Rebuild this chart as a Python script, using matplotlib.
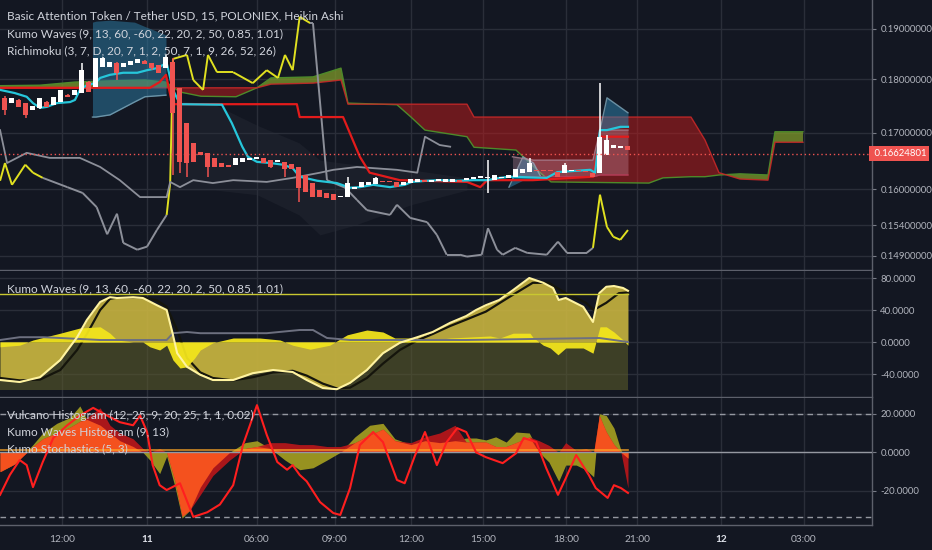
import numpy as np
import matplotlib
matplotlib.use('Agg')
import matplotlib.pyplot as plt
from matplotlib.collections import LineCollection
import matplotlib.transforms as mtrans
from matplotlib.ticker import NullLocator

plt.rcParams['font.family'] = ['Lato', 'DejaVu Sans']

# ---------------- data ----------------
# Heikin Ashi candles (15-min bars, index 0..89)
ha_open = [0.1765, 0.1755, 0.1761, 0.1755, 0.1742, 0.1746, 0.1757, 0.1752, 0.1757, 0.1770,
           0.1770, 0.1774, 0.1795, 0.1786, 0.1824, 0.1824, 0.1832, 0.1824, 0.1828, 0.1832,
           0.1836, 0.1832, 0.1828, 0.1822, 0.1834, 0.1784, 0.1718, 0.1682, 0.1666, 0.1664,
           0.1655, 0.1646, 0.1643, 0.1643, 0.1648, 0.1651, 0.1653, 0.1655, 0.1651, 0.1648,
           0.1648, 0.1644, 0.1639, 0.1625, 0.1611, 0.1599, 0.1594, 0.1592, 0.1587, 0.1587,
           0.1601, 0.1604, 0.1608, 0.1610, 0.1615, 0.1615, 0.1613, 0.1608, 0.1611, 0.1613,
           0.1616, 0.1613, 0.1615, 0.1613, 0.1613, 0.1616, 0.1616, 0.1618, 0.1620, 0.1620,
           0.1616, 0.1620, 0.1620, 0.1622, 0.1629, 0.1630, 0.1634, 0.1634, 0.1634, 0.1630,
           0.1629, 0.1632, 0.1634, 0.1632, 0.1629, 0.1629, 0.1660, 0.1673, 0.1673, 0.1676]
ha_close = [0.1742, 0.1765, 0.1748, 0.1733, 0.1750, 0.1765, 0.1748, 0.1767, 0.1780, 0.1767,
            0.1780, 0.1818, 0.1776, 0.1842, 0.1842, 0.1834, 0.1813, 0.1832, 0.1836, 0.1840,
            0.1830, 0.1822, 0.1813, 0.1844, 0.1737, 0.1648, 0.1646, 0.1648, 0.1660, 0.1639,
            0.1639, 0.1639, 0.1639, 0.1655, 0.1655, 0.1655, 0.1657, 0.1646, 0.1639, 0.1651,
            0.1636, 0.1636, 0.1603, 0.1596, 0.1587, 0.1587, 0.1586, 0.1582, 0.1589, 0.1611,
            0.1604, 0.1613, 0.1613, 0.1620, 0.1613, 0.1613, 0.1604, 0.1613, 0.1618, 0.1618,
            0.1613, 0.1616, 0.1618, 0.1618, 0.1618, 0.1613, 0.1620, 0.1622, 0.1623, 0.1622,
            0.1625, 0.1622, 0.1625, 0.1636, 0.1636, 0.1646, 0.1632, 0.1632, 0.1632, 0.1622,
            0.1643, 0.1634, 0.1632, 0.1630, 0.1622, 0.1693, 0.1687, 0.1678, 0.1676, 0.1669]
ha_high = [0.1769, 0.1765, 0.1763, 0.1755, 0.1750, 0.1765, 0.1759, 0.1767, 0.1780, 0.1772,
           0.1780, 0.1832, 0.1797, 0.1842, 0.1844, 0.1834, 0.1834, 0.1832, 0.1836, 0.1840,
           0.1838, 0.1832, 0.1828, 0.1848, 0.1842, 0.1784, 0.1718, 0.1682, 0.1666, 0.1664,
           0.1655, 0.1646, 0.1643, 0.1655, 0.1655, 0.1655, 0.1657, 0.1655, 0.1651, 0.1651,
           0.1648, 0.1644, 0.1639, 0.1625, 0.1611, 0.1599, 0.1594, 0.1592, 0.1589, 0.1622,
           0.1604, 0.1613, 0.1613, 0.1622, 0.1615, 0.1615, 0.1613, 0.1613, 0.1618, 0.1618,
           0.1616, 0.1616, 0.1618, 0.1618, 0.1618, 0.1616, 0.1620, 0.1622, 0.1623, 0.1651,
           0.1625, 0.1622, 0.1625, 0.1636, 0.1636, 0.1655, 0.1634, 0.1634, 0.1634, 0.1630,
           0.1646, 0.1634, 0.1634, 0.1632, 0.1629, 0.1793, 0.1696, 0.1678, 0.1676, 0.1676]
ha_low = [0.1733, 0.1755, 0.1748, 0.1727, 0.1742, 0.1744, 0.1748, 0.1752, 0.1757, 0.1767,
          0.1770, 0.1774, 0.1776, 0.1786, 0.1824, 0.1824, 0.1799, 0.1824, 0.1828, 0.1832,
          0.1830, 0.1818, 0.1813, 0.1822, 0.1625, 0.1629, 0.1622, 0.1648, 0.1660, 0.1622,
          0.1639, 0.1639, 0.1639, 0.1643, 0.1648, 0.1651, 0.1653, 0.1646, 0.1637, 0.1648,
          0.1622, 0.1636, 0.1579, 0.1596, 0.1587, 0.1587, 0.1586, 0.1582, 0.1587, 0.1587,
          0.1601, 0.1604, 0.1608, 0.1610, 0.1613, 0.1613, 0.1604, 0.1608, 0.1611, 0.1613,
          0.1613, 0.1613, 0.1615, 0.1613, 0.1613, 0.1613, 0.1616, 0.1618, 0.1620, 0.1594,
          0.1616, 0.1620, 0.1620, 0.1622, 0.1629, 0.1630, 0.1632, 0.1632, 0.1632, 0.1622,
          0.1629, 0.1632, 0.1632, 0.1630, 0.1622, 0.1629, 0.1660, 0.1673, 0.1673, 0.1669]
last_price = 0.16624801

# Ichimoku cloud (spans A / B, shifted forward)
cloud_x = [-1, 5, 10, 14, 20, 23, 25, 28, 33, 36, 38, 44, 48, 49, 56, 58, 60, 66, 67, 73,
           76, 78, 92, 94, 98, 100, 102, 105, 109, 110, 114]
span_a = [0.1788, 0.1789, 0.1795, 0.1797, 0.1799, 0.1795, 0.1776, 0.1768, 0.1767, 0.1784,
          0.1803, 0.1805, 0.1822, 0.1755, 0.1752, 0.1729, 0.1705, 0.1693, 0.1674, 0.1669,
          0.1634, 0.1613, 0.1611, 0.1620, 0.1622, 0.1622, 0.1625, 0.1627, 0.1625, 0.1702, 0.1702]
span_b = [0.1784, 0.1784, 0.1784, 0.1784, 0.1784, 0.1784, 0.1784, 0.1784, 0.1784, 0.1784,
          0.1791, 0.1793, 0.1799, 0.1753, 0.1753, 0.1753, 0.1753, 0.1753, 0.1729, 0.1729,
          0.1729, 0.1729, 0.1729, 0.1729, 0.1729, 0.1687, 0.1629, 0.1618, 0.1616, 0.1683, 0.1683]

# Tenkan (cyan) and Kijun (red)
tenkan_x = [-0.7, 1.4, 3.1, 4, 5, 6, 7.4, 9.3, 10, 10.7, 11.7, 12.9, 13.6, 15, 16.9, 18.9, 20.3,
            21.7, 23.1, 24, 25, 31, 32.4, 33.9, 34.7, 36, 37.9, 39.7, 41.1, 42.1, 44.6, 47.4, 49.3,
            50.7, 52.6, 55, 57.1, 58.1, 60.3, 62.1, 64.6, 66.9, 68.9, 70.7, 72.1, 77.4, 78.9, 83.6,
            84.3, 85, 86, 87.9, 89]
tenkan = [0.1780, 0.1774, 0.1767, 0.1755, 0.1746, 0.1748, 0.1755, 0.1757, 0.1761, 0.1780, 0.1789,
          0.1793, 0.1803, 0.1809, 0.1813, 0.1813, 0.1818, 0.1822, 0.1832, 0.1780, 0.1753, 0.1752,
          0.1718, 0.1675, 0.1657, 0.1648, 0.1646, 0.1643, 0.1637, 0.1622, 0.1615, 0.1611, 0.1603,
          0.1604, 0.1608, 0.1604, 0.1608, 0.1613, 0.1615, 0.1616, 0.1615, 0.1616, 0.1616, 0.1620,
          0.1622, 0.1620, 0.1630, 0.1634, 0.1629, 0.1705, 0.1705, 0.1711, 0.1711]
kijun_x = [-0.7, 20.7, 22.1, 23, 23.9, 41.7, 42.1, 48.3, 50.7, 52.1, 56.4, 66, 67.9, 68.9, 75.4,
           84, 85, 89]
kijun = [0.1784, 0.1784, 0.1795, 0.1809, 0.1753, 0.1753, 0.1729, 0.1729, 0.1657, 0.1629, 0.1616,
         0.1613, 0.1604, 0.1616, 0.1616, 0.1622, 0.1693, 0.1693]

# Kumo Waves bands on price
blue1_x = [12.5, 13, 15, 18.5, 20, 23]
blue1_top = [0.1914, 0.1916, 0.1918, 0.1914, 0.1905, 0.1888]
blue1_bot = [0.1729, 0.1729, 0.1733, 0.1757, 0.1767, 0.1770]
blue2_x = [72, 74, 75.5, 76.5]
blue2_top = [0.1604, 0.1657, 0.1646, 0.1623]
blue2_bot = [0.1604, 0.1616, 0.1618, 0.1620]
blue3_x = [85, 86, 89]
blue3_top = [0.1705, 0.1765, 0.1737]
blue3_bot = [0.1705, 0.1705, 0.1711]
pink_x = [72.5, 75.5, 84, 85, 89]
pink_top = [0.1657, 0.1651, 0.1651, 0.1705, 0.1705]
pink_bot = [0.1622, 0.1622, 0.1622, 0.1625, 0.1625]
shade_x = [24, 30, 36, 42, 45, 50, 58, 66]
shade_top = [0.1761, 0.1752, 0.1714, 0.1682, 0.1651, 0.1643, 0.1634, 0.1620]
shade_bot = [0.1599, 0.1599, 0.1591, 0.1557, 0.1524, 0.1540, 0.1574, 0.1599]

# yellow / gray oscillating line (Y = yellow state, G = gray state)
osc_x = [-0.7, 0, 1, 2.9, 4, 5.4, 8.9, 11.1, 13.1, 14.6, 16, 16.9, 18.9, 20.3, 21.7, 23.1, 23.6,
         24, 26, 26.9, 28.3, 29, 30.3, 32.6, 35.4, 37.4, 39, 40, 41.1, 42.1, 43.6, 44, 46, 48.6,
         50.3, 51.7, 55, 56, 57.9, 60.3, 61.7, 63.1, 65, 66, 68.1, 69, 70.3, 71.1, 72.9, 74.6,
         77.4, 79, 80.3, 83.1, 84, 85, 86, 86.9, 87.9, 89]
osc_val = [0.1615, 0.1646, 0.1608, 0.1643, 0.1629, 0.1620, 0.1604, 0.1594, 0.1570, 0.1525, 0.1559,
           0.1511, 0.1500, 0.1505, 0.1532, 0.1557, 0.1611, 0.1840, 0.1848, 0.1799, 0.1780, 0.1848,
           0.1814, 0.1814, 0.1793, 0.1818, 0.1803, 0.1848, 0.1818, 0.1925, 0.1912, 0.1912, 0.1616,
           0.1603, 0.1582, 0.1565, 0.1557, 0.1574, 0.1552, 0.1545, 0.1524, 0.1492, 0.1492, 0.1489,
           0.1492, 0.1535, 0.1500, 0.1492, 0.1503, 0.1495, 0.1492, 0.1513, 0.1495, 0.1495, 0.1503,
           0.1591, 0.1537, 0.1521, 0.1516, 0.1532]
osc_state = ['Y', 'Y', 'Y', 'Y', 'Y', 'G', 'G', 'G', 'G', 'G', 'G', 'G', 'G', 'G', 'G', 'Y', 'Y',
             'Y', 'Y', 'Y', 'Y', 'Y', 'Y', 'Y', 'Y', 'Y', 'Y', 'Y', 'Y', 'Y', 'G', 'G', 'G', 'G',
             'G', 'G', 'G', 'G', 'G', 'G', 'G', 'G', 'G', 'G', 'G', 'G', 'G', 'G', 'G', 'G',
             'G', 'G', 'G', 'G', 'Y', 'Y', 'Y', 'Y', 'Y', 'Y']
# lagging (gray) line
lag_x = [-0.7, 0.3, 3.1, 6.4, 10.7, 13.6, 16.4, 19.3, 23.1, 23.6, 25, 26.9, 29.7, 32.6, 37.4,
         41.1, 45, 46.9, 50.3, 56, 58.9, 60, 62.1, 63.6]
lag_val = [0.1705, 0.1646, 0.1664, 0.1655, 0.1655, 0.1639, 0.1616, 0.1587, 0.1587, 0.1613, 0.1604,
           0.1616, 0.1611, 0.1616, 0.1613, 0.1620, 0.1629, 0.1634, 0.1639, 0.1634, 0.1629, 0.1693,
           0.1678, 0.1675]

# Kumo Waves oscillator panel
kw_level_hi, kw_level_lo = 60, -60
kw_x = [-0.7, 2.1, 5, 7.9, 10.3, 11.7, 13.6, 15, 16, 18.3, 19.7, 21.7, 23.1, 23.9, 24.6, 26, 27.9,
        29.7, 32.6, 35.4, 38.3, 41.1, 43.1, 45.4, 47.4, 49.3, 51.7, 54, 56.4, 58.9, 61.1, 63.6,
        65.9, 67.3, 68.7, 70.6, 72.6, 74.9, 76.9, 78.3, 79.1, 80.1, 82.6, 84, 84.9, 85.9, 87,
        88.3, 89]
kw_fast = [-47.5, -50, -44, -22.5, 6, 27.5, 50, 56, 55, 56, 55, 46, 40, 12.5, -14, -31, -41, -47.5,
           -47.5, -39, -35, -37.5, -47.5, -57.5, -59, -51, -35, -14, -1, 6, 12.5, 24, 32.5, 40, 46,
           52.5, 65, 80, 74, 67.5, 52.5, 55, 44, 25, 61, 69, 70, 67.5, 64]
kws_x = [-0.7, 2.1, 5, 7.9, 10.3, 11.7, 13.6, 15, 16.4, 19.7, 21.7, 23.1, 24.6, 26, 27.9, 29.7,
         32.6, 35.4, 38.3, 41.1, 43.1, 45.4, 47.4, 49.3, 51.7, 54, 56.4, 58.9, 61.1, 63.6, 65.9,
         68.7, 72, 75.4, 77.7, 80.1, 83, 84.1, 85.9, 87.7, 89]
kw_slow = [-45, -48, -47, -35, -10, 10, 40, 54, 56, 56, 52, 44, 15, -20, -38, -45, -48, -44, -38,
           -36, -42, -52, -58, -57, -45, -27, -10, 2, 10, 20, 28, 38, 56, 74, 74, 61, 49, 40, 49,
           61, 62]
kwy_x = [-0.7, 2.1, 4, 7.9, 10.7, 13.6, 15, 16, 18.3, 19.7, 20.7, 22.1, 23.1, 24, 25, 26, 27.1,
         27.9, 29.7, 32.6, 36.4, 39.3, 41.1, 43.6, 46.4, 48.9, 51.7, 54, 55.7, 57.9, 61.1, 63.6,
         65.9, 69.3, 70.7, 72.6, 75, 75.4, 76.9, 77.9, 79, 80.1, 82.6, 84, 85, 85.9, 87, 88.3, 89]
kw_hist = [-6, -4, 2.5, 11, 17.5, 19, 11, 2.5, 0, 0, -6, -10, -4, -22.5, -32.5, -31, -20, -10, -1,
           5, 5, 2.5, -4, -9, -4, 9, 15, 12.5, 5, 5, 2.5, 5, 6, 7.5, 5, 11, 11, 6, -4, -7.5, -16,
           -7.5, -7.5, -14, 19, 19, 12.5, 2.5, -4]
kwg_x = [-0.7, 2.1, 5.4, 7.9, 13.6, 23.1, 24, 26, 27.9, 37.4, 42.1, 44, 46, 49.3, 65.9, 84.9, 89]
kw_gray = [2.5, 6, 6, 5, 2.5, 2.5, 11, 12.5, 11, 11, 15, 15, 5, 2.5, 2.5, 5, 0]

# Vulcano / Kumo Waves histogram / Stochastics panel
vh_x = [-0.7, 1.4, 4, 5.4, 7.4, 9.3, 10.7, 11.7, 13.6, 15, 16.4, 18.3, 19.7, 20.7, 22.1, 23.1,
        24.3, 25.3, 26.4, 27.9, 29.7, 32.1, 34.3, 36, 37.9, 40, 42.1, 44, 46, 47.9, 50, 52.1, 54,
        55.7, 58, 60, 62.1, 64.3, 65.9, 67.3, 68.7, 70.1, 71.6, 73, 74.9, 76.3, 77.7, 79.1, 80.1,
        81.6, 83, 84.1, 84.9, 85.9, 87, 88, 89]
vulcano = [-10, -6, 4, 10, 15, 18, 24, 17, 14, 10, 6, 3, 0, -4, -11, -2, -18, -34, -30, -18, -8, 0,
           5, 6, 2, -4, -9, -8, -4, 0, 8, 14, 15, 7, 4, 6, 5, 6, 7.4, 7.4, 6.4, 8, 5.3, 10.5, 10, 0,
           -5, -15, -6.6, -6.6, -9, -12.7, 20, 19, 12.5, 1, -3]
kw_histo = [-10, -6, 3, 7, 10, 13, 16, 18, 23, 14, 10, 7, 2, 0, 2, 0, -15, -33, -30, -22, -12, -4,
            2, 3, 5, 5, 4, 4, 3, 3, 5, 9, 12, 6, 5, 8, 10, 14, 5.3, 5.3, 5.3, 3, 3, 5, 8, 6, 3.6, 0,
            5, 1, 2, 0, 19, 10.5, 4, 0, -18.5]
st_x = [-0.7, 0.7, 2.1, 3.1, 4, 5.4, 6.9, 8.9, 10.7, 12.6, 14.6, 16.4, 18.3, 19.3, 20.3, 21.1,
        22.1, 23.1, 25, 26.9, 28.9, 30.7, 32.6, 34, 36, 37.4, 38.9, 40.3, 41.1, 42.1, 43.1, 45,
        46.9, 47.9, 49.3, 50.7, 52.6, 54, 56, 57.1, 58.6, 60, 61.7, 63.1, 64.6, 65.9, 67.3, 68.7,
        71.1, 73, 74.1, 75.9, 77.3, 79, 80.1, 81.6, 83.4, 84.4, 86.1, 87, 88, 89]
stoch = [-22, -11.7, -4, -6.6, -18, -5, 7.4, 14, 19, 23, 19, 15.6, 14, 19, 10.5, -6.6, -17, -19.5,
         -16, -33.4, -31, -27, -17, 3.8, 24.4, 9, -5, -9, -6.6, -11.7, -15, -25.7, -31.4, -32.4,
         -18.5, 3.8, 10.5, 5.3, -14.3, -16, -1.4, 10.5, -6.6, 5.3, 12.5, 10.5, 0, -2.5, -5.6,
         -0.5, 7.4, 5.3, -8, -22, -13.5, -1.4, -11.7, -18.5, -23.6, -17, -18.5, -21]
st_levels = [20, -33.5]

# axes labels
price_ticks = [0.19, 0.18, 0.17, 0.16, 0.154, 0.149]
kw_ticks = [80, 40, 0, -40]
vh_ticks = [20, 0, -20]
time_pos = [8.1, 20.3, 36, 47.1, 58, 68.3, 80.1, 90.3, 102.3, 114.1]
time_lbl = ['12:00', '11', '06:00', '09:00', '12:00', '15:00', '18:00', '21:00', '12', '03:00']
time_bold = ['11', '12']

# ---------------- style ----------------
BG = '#131722'
GRID = '#2a2e39'
BORDER = '#5d606b'
TXT = '#d1d4dc'
AXT = '#b2b5be'
UP = '#ffffff'
DN = '#ef5350'
AXFS = 6.9

W, H = 932, 550
fig = plt.figure(figsize=(9.32, 5.5), dpi=100, facecolor=BG)


def box(x0, y0, x1, y1):
    return [x0 / W, 1 - y1 / H, (x1 - x0) / W, (y1 - y0) / H]


ax1 = fig.add_axes(box(0, 0, 872, 270))
ax2 = fig.add_axes(box(0, 271, 872, 397))
ax3 = fig.add_axes(box(0, 398, 872, 525))
XL = (-0.71, 123.86)

for ax in (ax1, ax2, ax3):
    ax.set_facecolor(BG)
    ax.set_xlim(*XL)
    for s in ('top', 'left'):
        ax.spines[s].set_visible(False)
    for s in ('right', 'bottom'):
        ax.spines[s].set_color(BORDER)
        ax.spines[s].set_linewidth(1.0)
    ax.set_xticks(time_pos)
    ax.grid(True, color=GRID, lw=1.0, zorder=0)
    ax.set_axisbelow(True)
    ax.yaxis.tick_right()
    ax.tick_params(axis='y', colors='#787b86', labelcolor=AXT, labelsize=AXFS, length=3, pad=3)
    ax.tick_params(axis='x', length=0)
ax1.tick_params(axis='x', labelbottom=False)
ax2.tick_params(axis='x', labelbottom=False)

# ---------- panel 1 ----------
ax1.set_yscale('log')
ax1.set_ylim(0.14678, 0.19599)
ax1.set_yticks(price_ticks)
ax1.set_yticklabels(['%.8f' % v for v in price_ticks])
ax1.yaxis.set_minor_locator(NullLocator())

cx = np.array(cloud_x, float)
ca = np.array(span_a)
cb = np.array(span_b)
ax1.fill_between(shade_x, shade_bot, shade_top, color='#2a2e39', alpha=0.35, lw=0, zorder=1)
ax1.fill_between(cx, ca, cb, where=ca >= cb, interpolate=True, color='#7f9a2a', alpha=0.75, lw=0, zorder=2)
ax1.fill_between(cx, ca, cb, where=ca < cb, interpolate=True, color='#b71c1c', alpha=0.55, lw=0, zorder=2)
ax1.plot(cx, ca, color='#4e8a2a', lw=1.0, zorder=3)
ax1.plot(cx, cb, color='#c62828', lw=1.0, alpha=0.9, zorder=3)

ax1.fill_between(blue1_x, blue1_bot, blue1_top, color='#2e7fa8', alpha=0.5, lw=0, zorder=3)
ax1.plot(blue1_x, blue1_bot, color='#7fa8bb', lw=1, alpha=0.8, zorder=3)
ax1.fill_between(blue2_x, blue2_bot, blue2_top, color='#2e7fa8', alpha=0.55, lw=0, zorder=3)
ax1.plot(blue2_x, blue2_top, color='#7fa8bb', lw=1, alpha=0.8, zorder=3)
ax1.fill_between(pink_x, pink_bot, pink_top, color='#d8a0b4', alpha=0.3, lw=0, zorder=3)
ax1.plot(pink_x, pink_top, color='#b08a9a', lw=1, alpha=0.8, zorder=3)
ax1.plot(pink_x, pink_bot, color='#c0395a', lw=1, alpha=0.8, zorder=3)
ax1.fill_between(blue3_x, blue3_bot, blue3_top, color='#2e7fa8', alpha=0.55, lw=0, zorder=3)
ax1.plot(blue3_x, blue3_top, color='#7fa8bb', lw=1, alpha=0.8, zorder=3)

# oscillating yellow/gray line
ox = np.array(osc_x)
ov = np.array(osc_val)
segs = [[(ox[i], ov[i]), (ox[i + 1], ov[i + 1])] for i in range(len(ox) - 1)]
cols = ['#e0e020' if osc_state[i] == 'Y' else '#8c8f99' for i in range(len(ox) - 1)]
ax1.add_collection(LineCollection(segs, colors=cols, linewidths=1.4, zorder=4))
ax1.plot(lag_x, lag_val, color='#8c8f99', lw=1.3, zorder=4)

ax1.plot(kijun_x, kijun, color='#e31b1b', lw=1.6, zorder=5)
ax1.plot(tenkan_x, tenkan, color='#26c6da', lw=1.6, zorder=5)

# candles
idx = np.arange(len(ha_open))
o = np.array(ha_open)
c = np.array(ha_close)
hi = np.maximum(np.array(ha_high), np.maximum(o, c))
lo = np.minimum(np.array(ha_low), np.minimum(o, c))
colr = np.where(c >= o, UP, DN)
ax1.vlines(idx, lo, hi, colors=colr, lw=1.1, zorder=6)
bot = np.minimum(o, c)
ht = np.maximum(np.abs(c - o), bot * 0.0012)
ax1.bar(idx, ht, bottom=bot, width=0.72, color=colr, lw=0, zorder=7)

ax1.axhline(last_price, color='#ef5350', lw=1.0, ls=(0, (1, 2)), zorder=8)
tr = mtrans.blended_transform_factory(ax1.transAxes, ax1.transData)
ax1.text(1.0, last_price, ' %.8f' % last_price, transform=tr, ha='left', va='center',
         color='white', fontsize=AXFS, clip_on=False, zorder=10,
         bbox=dict(boxstyle='square,pad=0.3', fc='#ef5350', ec='none'))

# ---------- panel 2 ----------
ax2.set_ylim(-68.75, 88.75)
ax2.set_yticks(kw_ticks)
ax2.set_yticklabels(['%.4f' % v for v in kw_ticks])
data_end = kw_x[-1]
ax2.fill_between([kw_x[0], data_end], [kw_level_lo, kw_level_lo], [0, 0], color='#5a5a2a', alpha=0.6, lw=0, zorder=1)
ax2.fill_between(kw_x, 0, kw_fast, color='#c8b440', alpha=0.9, lw=0, zorder=2)
ax2.plot(kws_x, kw_slow, color='#15150c', lw=1.6, zorder=3)
ax2.fill_between(kwy_x, 0, kw_hist, color='#f2e41c', alpha=0.95, lw=0, zorder=4)
ax2.plot(kwg_x, kw_gray, color='#6d7080', lw=1.4, zorder=5)
ax2.plot(kw_x, kw_fast, color='#fff3a0', lw=1.5, zorder=6)
ax2.plot([kw_x[0], data_end], [kw_level_hi, kw_level_hi], color='#c9c830', lw=1.0, zorder=6)

# ---------- panel 3 ----------
ax3.set_ylim(-37.6, 28.1)
ax3.set_yticks(vh_ticks)
ax3.set_yticklabels(['%.4f' % v for v in vh_ticks])
vo = np.array(vulcano)
vr = np.array(kw_histo)
same = np.sign(vo) == np.sign(vr)
ovl = np.where(same, np.sign(vo) * np.minimum(np.abs(vo), np.abs(vr)), 0)
ax3.fill_between(vh_x, 0, vo, color='#a39e20', alpha=0.92, lw=0, zorder=2)
ax3.fill_between(vh_x, 0, vr, color='#b8161a', alpha=0.92, lw=0, zorder=3)
ax3.fill_between(vh_x, 0, ovl, color='#f4511e', alpha=1.0, lw=0, zorder=4)
ax3.axhline(0, color='#9598a1', lw=1.0, zorder=5)
ax3.plot([vh_x[0], vh_x[-1]], [1, 1], color='#ffa726', lw=1.2, alpha=0.8, zorder=5)
for lv in st_levels:
    ax3.axhline(lv, color='#9598a1', lw=1.0, ls=(0, (4, 3)), zorder=5)
ax3.plot(st_x, stoch, color='#ff1f1f', lw=1.5, zorder=6)

ax3.set_xticklabels(time_lbl)
ax3.tick_params(axis='x', labelcolor=AXT, labelsize=AXFS + 0.4, pad=7)
for t in ax3.get_xticklabels():
    if t.get_text() in time_bold:
        t.set_fontweight('bold')
        t.set_color('#e0e3eb')

# ---------- legends ----------
def lg(x, y, s):
    fig.text(x / W, 1 - y / H, s, color=TXT, fontsize=8.5, ha='left', va='center')


lg(7, 16, 'Basic Attention Token / Tether USD, 15, POLONIEX, Heikin Ashi')
lg(7, 34, 'Kumo Waves (9, 13, 60, -60, 22, 20, 2, 50, 0.85, 1.01)')
lg(7, 51, 'Richimoku (3, 7, D, 20, 7, 1, 2, 50, 7, 1, 9, 26, 52, 26)')
lg(7, 289, 'Kumo Waves (9, 13, 60, -60, 22, 20, 2, 50, 0.85, 1.01)')
lg(7, 415, 'Vulcano Histogram (12, 25, 9, 20, 25, 1, 1, 0.02)')
lg(7, 432, 'Kumo Waves Histogram (9, 13)')
lg(7, 449, 'Kumo Stochastics (5, 3)')

fig.savefig('out.png', dpi=100, facecolor=BG)
